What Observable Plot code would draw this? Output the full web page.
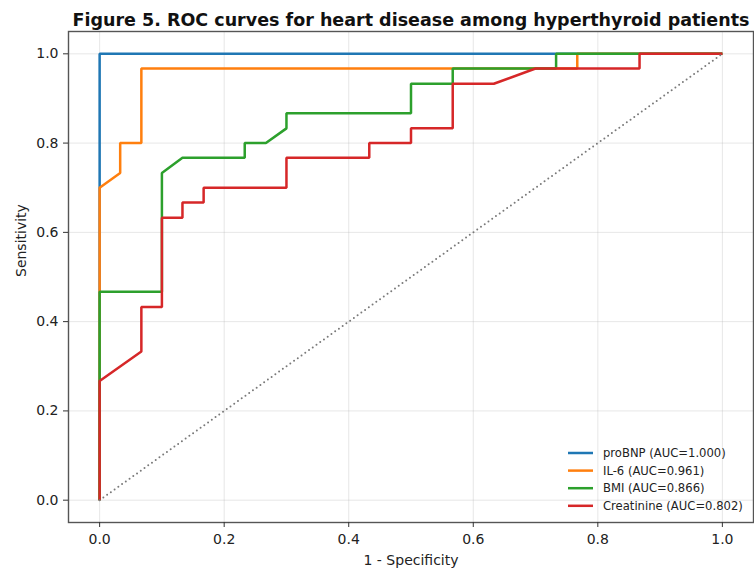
<!DOCTYPE html>
<html>
<head>
<meta charset="utf-8">
<script src="https://cdn.jsdelivr.net/npm/d3@7"></script>
<script src="https://cdn.jsdelivr.net/npm/@observablehq/plot@0.6"></script>
<style>
  html, body { margin: 0; padding: 0; background: #fff; }
  svg { font-family: "DejaVu Sans", sans-serif; }
</style>
</head>
<body>
<div id="chart"></div>
<script>
const title = "Figure 5. ROC curves for heart disease among hyperthyroid patients";
const xLabel = "1 - Specificity";
const yLabel = "Sensitivity";
const ticks = [0, 0.2, 0.4, 0.6, 0.8, 1.0];

const seriesNames = ["proBNP", "IL-6", "BMI", "Creatinine"];
const seriesAUC = ["1.000", "0.961", "0.866", "0.802"];
const seriesColors = ["#1f77b4", "#ff7f0e", "#2ca02c", "#d62728"];

const fprProBNP = [0, 0, 1];
const tprProBNP = [0, 1, 1];

const fprIL6 = [0, 0, 0.033, 0.033, 0.067, 0.067, 0.767, 0.767, 1];
const tprIL6 = [0, 0.7, 0.733, 0.8, 0.8, 0.967, 0.967, 1, 1];

const fprBMI = [0, 0, 0.1, 0.1, 0.133, 0.233, 0.233, 0.267, 0.3, 0.3, 0.5, 0.5, 0.567, 0.567, 0.733, 0.733, 1];
const tprBMI = [0, 0.467, 0.467, 0.733, 0.767, 0.767, 0.8, 0.8, 0.833, 0.867, 0.867, 0.933, 0.933, 0.967, 0.967, 1, 1];

const fprCreat = [0, 0, 0.067, 0.067, 0.1, 0.1, 0.133, 0.133, 0.167, 0.167, 0.3, 0.3, 0.433, 0.433, 0.5, 0.5, 0.567, 0.567, 0.633, 0.7, 0.867, 0.867, 1];
const tprCreat = [0, 0.267, 0.333, 0.433, 0.433, 0.633, 0.633, 0.667, 0.667, 0.7, 0.7, 0.767, 0.767, 0.8, 0.8, 0.833, 0.833, 0.933, 0.933, 0.967, 0.967, 1, 1];

const diagX = [0, 1];
const diagY = [0, 1];

const fprs = [fprProBNP, fprIL6, fprBMI, fprCreat];
const tprs = [tprProBNP, tprIL6, tprBMI, tprCreat];

const toPts = (xs, ys) => xs.map((x, i) => ({x, y: ys[i]}));

const W = 754, H = 572;
const mL = 68, mR = 1, mT = 31, mB = 50;

const lineMarks = seriesNames.map((name, i) =>
  Plot.line(toPts(fprs[i], tprs[i]), {x: "x", y: "y", stroke: seriesColors[i], strokeWidth: 2.5, strokeLinejoin: "miter", strokeLinecap: "butt"})
);

const plot = Plot.plot({
  width: W,
  height: H,
  marginLeft: mL,
  marginRight: mR,
  marginTop: mT,
  marginBottom: mB,
  style: {fontFamily: "DejaVu Sans, sans-serif", fontSize: "14px", color: "#222", background: "#fff"},
  x: {domain: [-0.05, 1.05], label: null},
  y: {domain: [-0.05, 1.05], label: null},
  marks: [
    Plot.gridX(ticks, {stroke: "#b0b0b0", strokeOpacity: 0.3, strokeWidth: 1}),
    Plot.gridY(ticks, {stroke: "#b0b0b0", strokeOpacity: 0.3, strokeWidth: 1}),
    ...lineMarks,
    Plot.line(toPts(diagX, diagY), {x: "x", y: "y", stroke: "#7a7a7a", strokeWidth: 2, strokeLinecap: "round", strokeDasharray: "0,4.6"}),
    Plot.frame({stroke: "#555", strokeWidth: 1.4}),
    Plot.axisX({ticks: ticks, tickFormat: d3.format(".1f"), tickSize: 5, tickPadding: 7, stroke: "#333", label: null, fontSize: 14}),
    Plot.axisY({ticks: ticks, tickFormat: d3.format(".1f"), tickSize: 5, tickPadding: 5, stroke: "#333", label: null, fontSize: 14}),
    Plot.text([title], {frameAnchor: "top", dy: -18, fontWeight: "bold", fontSize: 17.5, fill: "#111"}),
    Plot.text([xLabel], {frameAnchor: "bottom", dy: 42, fontSize: 14, fill: "#222"}),
    Plot.text([yLabel], {frameAnchor: "left", dx: -47, rotate: -90, fontSize: 14, fill: "#222"})
  ]
});

document.getElementById("chart").appendChild(plot);

// Legend (lower right, inside the frame)
const svg = d3.select(plot);
const lg = svg.append("g").attr("font-family", "DejaVu Sans, sans-serif").attr("font-size", 11.6).attr("text-anchor", "start");
const rowY0 = 453, rowStep = 17.6, lineX0 = 568, lineX1 = 593, textX = 603;
seriesNames.forEach((name, i) => {
  const y = rowY0 + i * rowStep;
  lg.append("line").attr("x1", lineX0).attr("x2", lineX1).attr("y1", y).attr("y2", y)
    .attr("stroke", seriesColors[i]).attr("stroke-width", 2.5);
  lg.append("text").attr("x", textX).attr("y", y).attr("dy", "0.35em").attr("fill", "#222")
    .attr("text-anchor", "start")
    .text(`${name} (AUC=${seriesAUC[i]})`);
});
</script>
</body>
</html>
